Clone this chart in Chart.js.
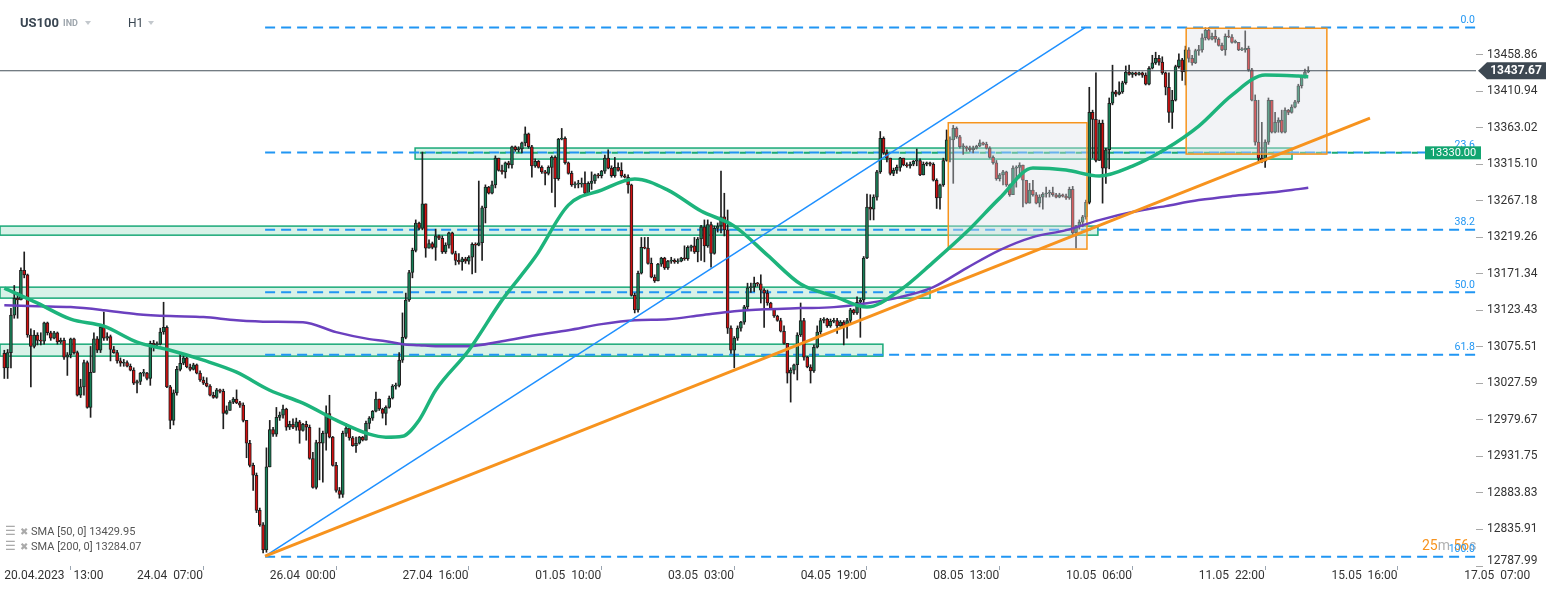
<!DOCTYPE html>
<html>
<head>
<meta charset="utf-8">
<script src="https://cdn.jsdelivr.net/npm/chart.js@4.4.0/dist/chart.umd.min.js"></script>
<style>
  html, body { margin: 0; padding: 0; background: #fff; }
  #wrap { position: relative; width: 1546px; height: 590px; font-family: Roboto, "Noto Sans", sans-serif; overflow: hidden; }
  #chart { position: absolute; left: 0; top: 0; }
  .hdr { position: absolute; color: #3a4652; white-space: nowrap; }
  .caret { position: absolute; width: 0; height: 0; border-left: 3.5px solid transparent; border-right: 3.5px solid transparent; border-top: 4px solid #c3c8cd; }
  .leg { position: absolute; left: 5px; font-size: 11px; line-height: 13px; color: #555; white-space: nowrap; }
  .leg .ic { display: inline-block; width: 15px; color: #aaa; font-size: 12px; }
  .leg .ix { display: inline-block; width: 11px; color: #aaa; font-size: 10px; }
</style>
</head>
<body>
<div id="wrap">
  <canvas id="chart" width="1546" height="590"></canvas>
  <div class="hdr" style="left:20px;top:15px;font-size:13px;font-weight:bold;">US100</div>
  <div class="hdr" style="left:63px;top:18px;font-size:9px;font-weight:bold;color:#9ea6ad;">IND</div>
  <div class="caret" style="left:85px;top:21px;"></div>
  <div class="hdr" style="left:128px;top:16px;font-size:12px;">H1</div>
  <div class="caret" style="left:148px;top:21px;"></div>
  <div class="leg" style="top:525px;"><span class="ic">☰</span><span class="ix">✖</span>SMA [50, 0] 13429.95</div>
  <div class="leg" style="top:540px;"><span class="ic">☰</span><span class="ix">✖</span>SMA [200, 0] 13284.07</div>
</div>
<script>
// US100 H1 candles, 20.04 13:00 -> 12.05
const firstOpen = 13067;
const closes = [
  13048,13068,13117,13139,13137,13176,13170,13091,13076,13091,13084,13083,13107,13094,13087,13094,13082,13084,13062,13065,13086,13068,13012,13023,13055,12996,13042,13086,13071,13101,13087,13089,13072,13068,13057,13054,13055,13050,13045,13028,13030,13041,13041,
  13034,13080,13078,13079,13095,13101,13023,12979,13015,13046,13054,13061,13049,13046,13052,13041,13032,13028,13024,13012,13009,13019,13017,12988,12992,13003,13007,13002,12999,12979,12949,12920,12907,12861,12842,12809,12918,12967,12961,12983,12986,12994,12970,12974,
  12970,12977,12966,12974,12970,12929,12891,12950,12949,12962,12988,12957,12920,12887,12882,12962,12969,12956,12946,12949,12957,12953,12975,12982,12991,13007,12994,12988,12996,13008,13024,13025,13058,13088,13137,13173,13202,13238,13231,13263,13205,13211,13206,13221,
  13218,13200,13209,13225,13198,13189,13187,13191,13188,13193,13210,13209,13212,13258,13285,13277,13288,13323,13307,13305,13317,13314,13338,13334,13335,13343,13355,13338,13313,13319,13311,13305,13303,13311,13324,13296,13348,13349,13317,13303,13288,13289,13289,13290,
  13277,13290,13293,13301,13300,13306,13323,13310,13300,13311,13307,13300,13298,13288,13143,13124,13172,13206,13205,13185,13167,13162,13184,13192,13179,13188,13189,13187,13188,13192,13191,13206,13208,13200,13217,13233,13208,13236,13198,13231,13234,13246,13229,13100,
  13071,13087,13100,13108,13128,13153,13154,13159,13158,13150,13146,13133,13126,13116,13110,13096,13080,13041,13045,13052,13091,13110,13062,13049,13044,13075,13095,13110,13112,13103,13109,13110,13103,13108,13103,13110,13124,13120,13134,13137,13192,13259,13256,13272,
  13305,13349,13330,13323,13303,13307,13311,13323,13314,13313,13315,13319,13320,13301,13315,13317,13315,13294,13271,13288,13320,13347,13347,13362,13351,13338,13338,13336,13334,13336,13339,13343,13341,13336,13324,13317,13296,13301,13305,13288,13275,13310,13311,13314,
  13294,13264,13281,13275,13264,13272,13276,13277,13278,13275,13272,13275,13273,13271,13282,13225,13233,13239,13246,13265,13383,13374,13320,13369,13310,13334,13395,13410,13407,13410,13422,13436,13433,13435,13433,13435,13432,13420,13441,13448,13454,13449,13435,13416,
  13383,13399,13443,13452,13436,13465,13454,13448,13464,13465,13481,13491,13479,13483,13479,13471,13465,13483,13482,13475,13475,13465,13465,13467,13439,13399,13344,13323,13319,13344,13399,13357,13370,13373,13357,13386,13383,13390,13397,13418,13429,13436,13437.67
];
const highs = [
  13071,13072,13126,13156,13147,13179,13200,13171,13099,13097,13094,13094,13108,13108,13096,13096,13095,13087,13087,13068,13087,13087,13070,13033,13058,13057,13076,13094,13089,13104,13121,13094,13091,13076,13071,13061,13059,13057,13053,13048,13032,13042,13046,
  13042,13083,13084,13082,13100,13134,13103,13025,13019,13050,13066,13065,13062,13053,13054,13053,13044,13036,13035,13026,13016,13021,13020,13020,12998,13005,13009,13019,13004,13002,12977,12953,12923,12910,12864,12845,12943,12979,12970,12996,12990,12999,12995,12978,
  12981,12982,12979,12975,12978,12973,12937,12953,12969,12965,12998,13012,12958,12924,12891,12965,12975,12966,12958,12957,12958,12958,12978,12984,12992,13016,13007,12995,12998,13011,13026,13028,13068,13120,13146,13176,13205,13242,13239,13331,13229,13216,13213,13230,
  13222,13221,13212,13226,13226,13201,13198,13193,13193,13195,13212,13212,13293,13260,13288,13286,13293,13326,13323,13314,13318,13319,13339,13339,13338,13344,13364,13356,13340,13322,13320,13313,13307,13313,13326,13326,13349,13362,13351,13318,13306,13292,13294,13297,
  13305,13292,13305,13302,13303,13307,13327,13334,13313,13324,13317,13317,13302,13301,13289,13146,13175,13219,13219,13219,13192,13170,13185,13193,13193,13189,13193,13191,13191,13193,13208,13208,13209,13219,13219,13235,13242,13242,13239,13234,13238,13306,13277,13255,
  13103,13089,13103,13109,13130,13159,13159,13167,13160,13170,13152,13150,13134,13126,13117,13113,13103,13078,13048,13053,13094,13133,13113,13063,13052,13078,13103,13113,13114,13113,13112,13113,13113,13110,13110,13113,13126,13125,13141,13139,13194,13276,13275,13275,
  13307,13358,13351,13334,13323,13310,13314,13324,13323,13317,13318,13320,13335,13322,13318,13318,13318,13317,13296,13289,13323,13360,13351,13366,13364,13353,13342,13339,13339,13339,13340,13347,13344,13344,13338,13326,13320,13303,13307,13306,13289,13313,13313,13317,
  13297,13294,13290,13294,13278,13275,13278,13285,13281,13285,13277,13277,13276,13276,13285,13286,13235,13242,13248,13268,13416,13386,13435,13373,13373,13336,13402,13445,13412,13423,13424,13444,13445,13436,13436,13436,13436,13435,13443,13458,13462,13458,13456,13436,
  13435,13412,13445,13460,13454,13470,13468,13458,13466,13471,13486,13494,13494,13487,13491,13481,13474,13486,13491,13485,13478,13475,13468,13490,13470,13441,13406,13399,13370,13347,13402,13399,13383,13376,13386,13389,13387,13393,13399,13420,13432,13440,13443
];
const lows = [
  13034,13034,13048,13113,13113,13137,13166,13088,13023,13074,13078,13078,13079,13091,13084,13086,13079,13080,13059,13038,13061,13066,13011,13009,13012,12995,12983,13042,13068,13068,13084,13084,13057,13067,13054,13050,13050,13049,13044,13026,13015,13026,13037,
  13032,13025,13070,13075,13078,13092,13022,12968,12973,13012,13044,13052,13048,13044,13045,13040,13030,13026,13023,13011,13008,13008,13015,12968,12987,12992,13001,13001,12996,12977,12930,12918,12887,12858,12840,12805,12806,12924,12958,12958,12979,12982,12966,12967,
  12968,12966,12949,12965,12953,12928,12890,12889,12901,12898,12940,12956,12919,12885,12877,12878,12958,12953,12945,12937,12948,12952,12953,12968,12979,12990,12992,12982,12973,12995,13007,13020,13023,13055,13086,13135,13166,13200,13229,13229,13193,13205,13204,13189,
  13216,13198,13198,13205,13197,13183,13184,13176,13185,13184,13171,13173,13208,13189,13238,13276,13276,13284,13306,13302,13297,13310,13310,13332,13331,13330,13339,13336,13298,13311,13310,13303,13288,13301,13278,13259,13294,13347,13315,13302,13286,13284,13284,13285,
  13276,13276,13282,13290,13297,13297,13303,13309,13298,13298,13306,13298,13297,13277,13142,13120,13121,13171,13204,13184,13166,13160,13163,13181,13177,13177,13185,13185,13185,13187,13189,13189,13201,13198,13187,13189,13187,13206,13180,13197,13226,13225,13221,13093,
  13067,13048,13084,13096,13105,13125,13147,13148,13155,13133,13101,13130,13125,13114,13109,13095,13079,13028,13003,13040,13032,13089,13058,13048,13028,13042,13074,13092,13107,13101,13101,13107,13093,13101,13078,13087,13107,13118,13118,13088,13133,13191,13242,13242,
  13268,13303,13328,13318,13301,13300,13303,13306,13313,13311,13310,13313,13313,13300,13301,13313,13313,13293,13257,13256,13286,13319,13318,13290,13349,13336,13328,13332,13332,13330,13335,13338,13340,13335,13323,13315,13294,13293,13288,13286,13273,13275,13285,13297,
  13259,13263,13268,13273,13263,13259,13256,13272,13272,13273,13271,13271,13272,13269,13269,13223,13205,13230,13233,13243,13263,13323,13318,13320,13264,13290,13309,13393,13404,13406,13408,13420,13432,13429,13431,13432,13429,13419,13419,13440,13446,13445,13433,13406,
  13370,13362,13398,13441,13425,13419,13449,13445,13447,13458,13462,13478,13478,13478,13475,13470,13464,13458,13481,13474,13474,13464,13464,13462,13437,13398,13340,13318,13317,13311,13341,13356,13356,13357,13356,13356,13380,13382,13389,13395,13415,13428,13435
];

// moving averages at these candle positions
const smaIdx = [0,10,20,30,40,50,60,70,80,90,100,110,115,120,125,130,140,150,160,170,180,190,200,210,220,230,240,250,260,270,280,290,300,310,320,330,340,350,360,370,380,390,393];
const sma50 = [13152.5,13132.8,13111.8,13102.6,13081.6,13071.1,13058,13042.3,13018.6,13001.6,12979.3,12960.9,12957,12958.2,12979.3,13018.6,13071.1,13136.8,13193.2,13261.4,13281.1,13295.6,13281.1,13253.6,13233.9,13195.8,13157.8,13142,13127.6,13149.9,13186.6,13226,13270.6,13310,13307.4,13299.5,13312.6,13335,13365.1,13405.8,13432,13430.7,13429.95];
const sma200 = [13130.2,13128.9,13127.6,13123.6,13118.4,13115.8,13114.5,13110.5,13108.5,13107.9,13094.8,13085.6,13082.9,13079,13077.7,13076.4,13076.4,13082.9,13090.8,13097.4,13105.3,13110.5,13111.8,13117,13122.3,13124.9,13126.3,13127.6,13132.8,13140.7,13153.8,13178.8,13202.4,13219.4,13228.6,13241.75,13252.3,13260.1,13268,13273.25,13277.2,13282.4,13284.07];

// axes
const xTickIdx = [0,40,80,120,160,200,240,280,320,360,400,440];
const xTickLabels = ["20.04.2023   13:00","24.04  07:00","26.04  00:00","27.04  16:00","01.05  10:00","03.05  03:00","04.05  19:00","08.05  13:00","10.05  06:00","11.05  22:00","15.05  16:00","17.05  07:00"];
const yTickValues = [12787.99,12835.91,12883.83,12931.75,12979.67,13027.59,13075.51,13123.43,13171.34,13219.26,13267.18,13315.10,13363.02,13410.94,13458.86];
const xMin = -1.3, xMax = 443.55, yMin = 12787.99, yMax = 13530.5;

// drawing tools on the chart
const lastPrice = 13437.67;
const levelPrice = 13330.00;
const levelFromIdx = 124;
const fibLabels = ["0.0","23.6","38.2","50.0","61.8","100.0"];
const fibPrices = [13494.4,13330.5,13229.1,13147.2,13065.2,12800.0];
const fibStartIdx = 78.6;
const trendIdx = [78.6, 411.6];
const trendPrice = [12801, 13375.6];
const diagIdx = [78.6, 325.7];
const diagPrice = [12801, 13494.4];
const zoneFrom = [123.8, xMin, xMin, xMin];
const zoneTo = [388.1, 329.6, 279, 264.8];
const zoneTop = [13336.3, 13233.9, 13153.8, 13079];
const zoneBottom = [13321.8, 13222, 13139.4, 13063.3];
const boxFrom = [284.5, 356.2];
const boxTo = [326.3, 398.6];
const boxTop = [13369.5, 13493.4];
const boxBottom = [13203.7, 13328.4];

const UP = "#177f57", DOWN = "#d10f0f", EDGE = "#1e1e1e";
const FIB = "#2196f3";

const opens = closes.map((c, i) => (i === 0 ? firstOpen : closes[i - 1]));
const bodies = closes.map((c, i) => ({ x: i, y: [opens[i], c] }));
const wicks = closes.map((c, i) => ({
  x: i,
  y: [Math.min(lows[i], opens[i], c), Math.max(highs[i], opens[i], c)],
}));
const bodyColors = closes.map((c, i) => (c >= opens[i] ? UP : DOWN));

const pts = (xs, ys) => xs.map((x, k) => ({ x, y: ys[k] }));
const plainLine = (label, data, color, width, order, extra) =>
  Object.assign(
    { type: "line", label, data, borderColor: color, borderWidth: width, pointRadius: 0, fill: false, order },
    extra || {}
  );

const fibSets = fibPrices.map((p, k) =>
  plainLine("fib " + fibLabels[k], pts([fibStartIdx, xMax], [p, p]), FIB, 2, 10, { borderDash: [10, 6] })
);

const overlays = {
  id: "overlays",
  beforeDatasetsDraw(chart) {
    const { ctx, scales: { x, y } } = chart;
    ctx.save();
    zoneFrom.forEach((f, k) => {
      const x0 = x.getPixelForValue(f), x1 = x.getPixelForValue(zoneTo[k]);
      const y0 = y.getPixelForValue(zoneTop[k]), y1 = y.getPixelForValue(zoneBottom[k]);
      ctx.fillStyle = "rgba(40,185,130,0.18)";
      ctx.fillRect(x0, y0, x1 - x0, y1 - y0);
      ctx.strokeStyle = "#1aa978";
      ctx.lineWidth = 1.5;
      ctx.strokeRect(x0, y0, x1 - x0, y1 - y0);
    });
    ctx.restore();
  },
  afterDatasetDraw(chart, args) {
    if (chart.data.datasets[args.index].label !== "bodies") return;
    const { ctx, scales: { x, y } } = chart;
    ctx.save();
    boxFrom.forEach((f, k) => {
      const x0 = x.getPixelForValue(f), x1 = x.getPixelForValue(boxTo[k]);
      const y0 = y.getPixelForValue(boxTop[k]), y1 = y.getPixelForValue(boxBottom[k]);
      ctx.fillStyle = "rgba(220,224,232,0.38)";
      ctx.fillRect(x0, y0, x1 - x0, y1 - y0);
      ctx.strokeStyle = "#f7941d";
      ctx.lineWidth = 1.5;
      ctx.strokeRect(x0, y0, x1 - x0, y1 - y0);
    });
    ctx.restore();
  },
  afterDraw(chart) {
    const { ctx, chartArea: a, scales: { y } } = chart;
    ctx.save();
    ctx.textBaseline = "middle";

    // lowest axis label sits a little higher than its tick
    ctx.font = "12px Roboto";
    ctx.fillStyle = "#333";
    ctx.textAlign = "left";
    ctx.fillText(yTickValues[0].toFixed(2), a.right + 11, y.getPixelForValue(yTickValues[0]) - 5);

    // candle countdown
    ctx.font = "14px Roboto";
    let cx = a.right - 54;
    [["25", "#f7931e"], ["m ", "#b0b0b0"], ["56", "#f7931e"], ["s", "#b0b0b0"]].forEach(([t, c]) => {
      ctx.fillStyle = c;
      ctx.fillText(t, cx, 546);
      cx += ctx.measureText(t).width;
    });

    // fibonacci level labels
    ctx.font = "10.5px Roboto";
    ctx.fillStyle = FIB;
    ctx.textAlign = "right";
    fibPrices.forEach((p, k) => ctx.fillText(fibLabels[k], a.right - 1, y.getPixelForValue(p) - 7));

    // 13330.00 tag
    const ly = y.getPixelForValue(levelPrice);
    ctx.fillStyle = "#12a571";
    ctx.fillRect(a.right - 51, ly - 6.5, 56, 13);
    ctx.fillStyle = "#fff";
    ctx.font = "11px Roboto";
    ctx.textAlign = "center";
    ctx.fillText(levelPrice.toFixed(2), a.right - 23, ly + 0.5);

    // last price tag
    const py = y.getPixelForValue(lastPrice);
    ctx.fillStyle = "#3d4852";
    ctx.beginPath();
    ctx.moveTo(a.right + 2, py);
    ctx.lineTo(a.right + 11, py - 8.5);
    ctx.lineTo(chart.width, py - 8.5);
    ctx.lineTo(chart.width, py + 8.5);
    ctx.lineTo(a.right + 11, py + 8.5);
    ctx.closePath();
    ctx.fill();
    ctx.fillStyle = "#fff";
    ctx.font = "bold 12px Roboto";
    ctx.fillText(lastPrice.toFixed(2), a.right + 40, py + 0.5);
    ctx.restore();
  },
};

new Chart(document.getElementById("chart"), {
  type: "bar",
  data: {
    datasets: [
      ...fibSets,
      plainLine("level", pts([levelFromIdx, xMax], [levelPrice, levelPrice]), "#1aaa75", 2, 9, {
        borderDash: [6, 10],
        borderDashOffset: 12,
      }),
      {
        label: "wicks",
        data: wicks,
        backgroundColor: EDGE,
        barThickness: 1,
        grouped: false,
        order: 8,
      },
      {
        label: "bodies",
        data: bodies,
        backgroundColor: bodyColors,
        borderColor: EDGE,
        borderWidth: 1,
        borderSkipped: false,
        barThickness: 3,
        minBarLength: 1,
        grouped: false,
        order: 7,
      },
      plainLine("SMA 200", pts(smaIdx, sma200), "#6b40bf", 2.5, 5, { cubicInterpolationMode: "monotone" }),
      plainLine("SMA 50", pts(smaIdx, sma50), "#1db47c", 3.5, 4, { cubicInterpolationMode: "monotone" }),
      plainLine("last", pts([xMin, xMax], [lastPrice, lastPrice]), "#45505a", 1, 3),
      plainLine("fib diagonal", pts(diagIdx, diagPrice), "#1e90ff", 1.5, 2),
      plainLine("trend", pts(trendIdx, trendPrice), "#f7931e", 3, 1),
    ],
  },
  options: {
    responsive: false,
    animation: false,
    events: [],
    layout: { padding: 0 },
    plugins: { legend: { display: false }, tooltip: { enabled: false } },
    scales: {
      x: {
        type: "linear",
        min: xMin,
        max: xMax,
        offset: false,
        grid: { drawOnChartArea: false, drawTicks: true, tickLength: 4, color: "#9aa5b1" },
        border: { display: false },
        ticks: {
          autoSkip: false,
          maxRotation: 0,
          align: "start",
          padding: -1,
          color: "#333",
          font: { family: "Roboto", size: 12 },
          callback: (v) => {
            const k = xTickIdx.indexOf(v);
            return k >= 0 ? xTickLabels[k] : "";
          },
        },
        afterBuildTicks: (s) => {
          s.ticks = xTickIdx.map((v) => ({ value: v }));
        },
        afterFit: (s) => {
          s.height = 24;
          s.paddingLeft = 0;
          s.paddingRight = 0;
        },
      },
      y: {
        type: "linear",
        position: "right",
        min: yMin,
        max: yMax,
        grid: { drawOnChartArea: false, drawTicks: true, tickLength: 7, color: "#a8a8a8" },
        border: { display: false },
        ticks: {
          padding: 4,
          color: "#333",
          font: { family: "Roboto", size: 12 },
          callback: (v) => (v === yTickValues[0] ? "" : v.toFixed(2)),
        },
        afterBuildTicks: (s) => {
          s.ticks = yTickValues.map((v) => ({ value: v }));
        },
        afterFit: (s) => {
          s.width = 70;
          s.paddingTop = 0;
          s.paddingBottom = 0;
        },
      },
    },
  },
  plugins: [overlays],
});
</script>
</body>
</html>
